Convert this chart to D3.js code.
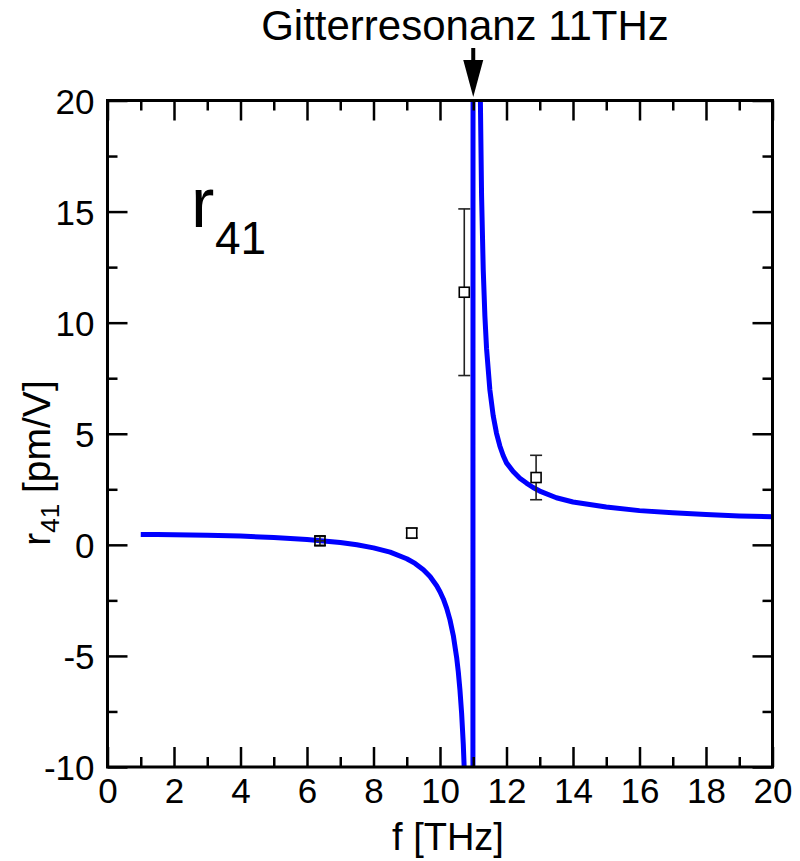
<!DOCTYPE html>
<html><head><meta charset="utf-8">
<script src="https://cdn.jsdelivr.net/npm/d3@7"></script>
<style>body{margin:0;background:#fff}svg{display:block}text{font-family:"Liberation Sans",Arial,sans-serif;fill:#000}</style>
</head><body><svg id="c" width="800" height="861"></svg>
<script>
// fit curve: frequency (THz), r41 (pm/V)
const curveF = [1,1.5,2,3,4,5,6,7,7.5,8,8.5,9,9.25,9.5,9.7,9.9,10,10.1,10.2,10.3,10.4,10.5,10.55,10.6,10.65,10.7,10.75,10.8,10.9,10.98,
                11.01,11.1,11.15,11.2,11.25,11.3,11.35,11.4,11.5,11.6,11.7,11.8,11.9,12,12.2,12.4,12.6,12.8,13,13.5,14,15,16,17,18,19,20];
const curveR = [0.47,0.465,0.456,0.431,0.392,0.333,0.244,0.105,0.002,-0.136,-0.331,-0.626,-0.837,-1.119,-1.424,-1.838,-2.108,-2.437,-2.849,-3.377,-4.08,-5.063,-5.715,-6.532,-7.574,-8.965,-10.89,-13.78,-27.8,-121,
                200,112,36.1,21.75,15.73,12.4,10.3,8.84,6.97,5.81,5.02,4.45,4.02,3.69,3.3,3.0,2.78,2.58,2.42,2.12,1.93,1.70,1.54,1.44,1.36,1.30,1.26];
// measured points
const ptF = [6.39, 9.15, 10.73, 12.89];
const ptR = [0.18, 0.53, 11.37, 3.03];
const ptErrR = [0.2, 0.22, 3.75, 1.0];
const ptErrF = [0.15, 0, 0, 0];
// ticks
const xMajor = [0,2,4,6,8,10,12,14,16,18,20];
const xMinor = [1,3,5,7,9,11,13,15,17,19];
const yMajor = [-10,-5,0,5,10,15,20];
const yMinor = [-7.5,-2.5,2.5,7.5,12.5,17.5];

const svg = d3.select("#c");
const L=107.5, R=772.5, T=100.5, B=767;
const x = d3.scaleLinear().domain([0,20]).range([L,R]);
const y = d3.scaleLinear().domain([-10,20]).range([B,T]);

svg.append("defs").append("clipPath").attr("id","clip")
  .append("rect").attr("x",L).attr("y",T).attr("width",R-L).attr("height",B-T);

// curve
const data = curveF.map((f,i)=>[f,curveR[i]]);
svg.append("path").datum(data).attr("clip-path","url(#clip)")
  .attr("fill","none").attr("stroke","#0000ff").attr("stroke-width",5).attr("stroke-linejoin","round")
  .attr("d", d3.line().x(d=>x(d[0])).y(d=>y(d[1])));

// axes
function styleAxis(g){ g.selectAll(".domain").remove(); g.selectAll("line").attr("stroke","#000").attr("stroke-width",2.5); }
const fs = 35;
const fmt = d => String(d);
const gb = svg.append("g").attr("transform",`translate(0,${B})`)
  .call(d3.axisBottom(x).tickValues(xMajor).tickSize(-20).tickPadding(11).tickFormat(fmt));
gb.call(styleAxis); gb.selectAll("text").attr("font-size",fs).attr("dy","0.71em");
svg.append("g").attr("transform",`translate(0,${B})`)
  .call(d3.axisBottom(x).tickValues(xMinor).tickSize(-10).tickFormat("")).call(styleAxis);
svg.append("g").attr("transform",`translate(0,${T})`)
  .call(d3.axisTop(x).tickValues(xMajor).tickSize(-20).tickFormat("")).call(styleAxis);
svg.append("g").attr("transform",`translate(0,${T})`)
  .call(d3.axisTop(x).tickValues(xMinor).tickSize(-10).tickFormat("")).call(styleAxis);
const gl = svg.append("g").attr("transform",`translate(${L},0)`)
  .call(d3.axisLeft(y).tickValues(yMajor).tickSize(-20).tickPadding(13).tickFormat(fmt));
gl.call(styleAxis); gl.selectAll("text").attr("font-size",fs).attr("dy","0.36em");
svg.append("g").attr("transform",`translate(${L},0)`)
  .call(d3.axisLeft(y).tickValues(yMinor).tickSize(-10).tickFormat("")).call(styleAxis);
svg.append("g").attr("transform",`translate(${R},0)`)
  .call(d3.axisRight(y).tickValues(yMajor).tickSize(-20).tickFormat("")).call(styleAxis);
svg.append("g").attr("transform",`translate(${R},0)`)
  .call(d3.axisRight(y).tickValues(yMinor).tickSize(-10).tickFormat("")).call(styleAxis);
svg.append("rect").attr("x",L).attr("y",T).attr("width",R-L).attr("height",B-T)
  .attr("fill","none").attr("stroke","#000").attr("stroke-width",3);

// error bars and markers
const pts = ptF.map((f,i)=>({f, r:ptR[i], er:ptErrR[i], ef:ptErrF[i]}));
const eg = svg.append("g").attr("stroke","#222").attr("stroke-width",1.6);
pts.forEach(p=>{
  const cx=x(p.f), y1=y(p.r+p.er), y2=y(p.r-p.er);
  eg.append("line").attr("x1",cx).attr("x2",cx).attr("y1",y1).attr("y2",y2);
  eg.append("line").attr("x1",cx-6).attr("x2",cx+6).attr("y1",y1).attr("y2",y1);
  eg.append("line").attr("x1",cx-6).attr("x2",cx+6).attr("y1",y2).attr("y2",y2);
  if(p.ef>0){ eg.append("line").attr("x1",x(p.f-p.ef)).attr("x2",x(p.f+p.ef)).attr("y1",y(p.r)).attr("y2",y(p.r)); }
});
svg.append("g").selectAll("rect.m").data(pts).join("rect")
  .attr("x",d=>x(d.f)-5).attr("y",d=>y(d.r)-5).attr("width",10).attr("height",10)
  .attr("fill",d=>d.ef>0?"none":"#fff").attr("stroke","#000").attr("stroke-width",1.6);

// annotation
svg.append("text").attr("x",465).attr("y",40).attr("text-anchor","middle").attr("font-size",42).text("Gitterresonanz 11THz");
const ax = x(11);
svg.append("line").attr("x1",ax).attr("x2",ax).attr("y1",48).attr("y2",62).attr("stroke","#000").attr("stroke-width",4);
svg.append("path").attr("d",`M${ax-10},60 L${ax+10},60 L${ax},97 Z`).attr("fill","#000");

// big label
svg.append("text").attr("x",191).attr("y",227).attr("font-size",70).text("r");
svg.append("text").attr("x",215).attr("y",254).attr("font-size",46).text("41");

// axis titles
svg.append("text").attr("x",448).attr("y",850).attr("text-anchor","middle").attr("font-size",38).text("f [THz]");
const yl = svg.append("text").attr("transform","translate(50,463) rotate(-90)").attr("text-anchor","middle").attr("font-size",39);
yl.append("tspan").text("r");
yl.append("tspan").attr("font-size",26).attr("dy",9).text("41");
yl.append("tspan").attr("dy",-9).text(" [pm/V]");
</script></body></html>
